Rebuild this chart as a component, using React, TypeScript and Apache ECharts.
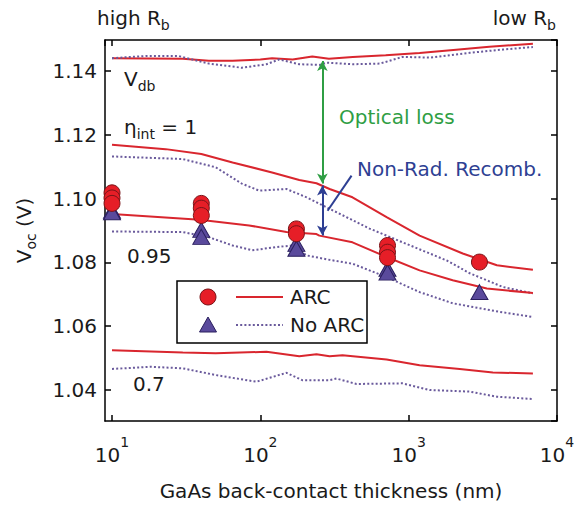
import React, { useEffect, useRef } from 'react';
import * as echarts from 'echarts';

// ---- data (x: GaAs back-contact thickness in nm, y: Voc in V) ----
const vdbArc = [[10,1.1440],[30,1.1438],[45,1.1432],[65,1.1432],[100,1.1436],[120,1.1440],[165,1.1436],[224,1.1445],[290,1.1438],[420,1.1444],[700,1.1449],[1185,1.1456],[2000,1.1466],[3500,1.1476],[6880,1.1485]];
const vdbNoArc = [[10,1.1440],[17,1.1447],[28,1.1447],[45,1.1423],[75,1.1410],[110,1.1421],[134,1.1436],[183,1.1421],[250,1.1419],[280,1.1426],[420,1.1421],[640,1.1423],[910,1.1444],[1385,1.1442],[2585,1.1457],[4315,1.1467],[6880,1.1475]];
const eta1Arc = [[10,1.1169],[23,1.1155],[40,1.1140],[65,1.1113],[120,1.1082],[183,1.1058],[239,1.1048],[293,1.1030],[418,1.1004],[710,1.0942],[1185,1.0884],[2315,1.0828],[3935,1.0791],[6880,1.0777]];
const eta1NoArc = [[10,1.1132],[30,1.1124],[50,1.1098],[75,1.1047],[98,1.1025],[150,1.1030],[205,1.1004],[293,1.0968],[545,1.0906],[910,1.0863],[1805,1.0806],[2585,1.0766],[4315,1.0723],[6880,1.0703]];
const eta095Arc = [[10,1.0952],[39,1.0934],[84,1.0916],[150,1.0895],[239,1.0889],[250,1.0884],[418,1.0863],[710,1.0817],[1185,1.0775],[1980,1.0744],[3365,1.0718],[6880,1.0704]];
const eta095NoArc = [[10,1.0897],[30,1.0895],[45,1.0879],[65,1.0853],[88,1.0838],[128,1.0848],[164,1.0853],[205,1.0822],[293,1.0808],[418,1.0796],[710,1.0754],[1185,1.0707],[1980,1.0672],[4120,1.0645],[6880,1.0629]];
const eta07Arc = [[10,1.0525],[30,1.0518],[50,1.0515],[110,1.0520],[183,1.0506],[239,1.0512],[293,1.0506],[358,1.0509],[710,1.0496],[1185,1.0478],[2210,1.0466],[3695,1.0455],[6880,1.0452]];
const eta07NoArc = [[10,1.0466],[18,1.0473],[30,1.0468],[50,1.0447],[94,1.0426],[150,1.0454],[192,1.0431],[293,1.0431],[326,1.0436],[445,1.0419],[910,1.0421],[1385,1.0400],[2585,1.0395],[3935,1.0379],[6880,1.0372]];

// measured points
const arcPoints = [[10,1.1018],[10,1.1002],[10,1.0985],[40,1.0985],[40,1.0970],[40,1.0947],[175,1.0905],[175,1.0890],[720,1.0853],[720,1.0832],[720,1.0815],[3000,1.0801]];
const noArcPoints = [[10,1.0962],[10,1.0957],[40,1.0902],[40,1.0880],[175,1.0858],[175,1.0843],[720,1.0780],[720,1.0768],[3000,1.0707]];

// annotation arrows (data coordinates)
const opticalLoss = [[262,1.1431],[262,1.1047]];
const nonRad = [[262,1.1041],[262,1.0884]];
const nonRadLeader = [[284,1.0962],[412,1.1072]];

const X_MIN = 8.97;
const X_MAX = 10000;
const Y_MIN = 1.0303;
const Y_MAX = 1.1497;

const FONT = 'DejaVu Sans';
const INK = '#1a1a1a';
const RED = '#d9262e';
const RED_FILL = '#e61e27';
const RED_EDGE = '#7a1418';
const PURPLE = '#6a5a9c';
const TRI_FILL = '#5a4a9c';
const TRI_EDGE = '#2a1f5e';
const GREEN = '#2f9e44';
const NAVY = '#2e3f93';

const solid = (name: string, data: number[][]) => ({
  name, type: 'line', data, showSymbol: false, symbol: 'none',
  lineStyle: { color: RED, width: 2 }, z: 2,
});
const dotted = (name: string, data: number[][]) => ({
  name, type: 'line', data, showSymbol: false, symbol: 'none',
  lineStyle: { color: PURPLE, width: 2, type: [2, 2.2] }, z: 2,
});

export default function App() {
  const ref = useRef<HTMLDivElement>(null);
  useEffect(() => {
    if (!ref.current) return;
    const chart = echarts.init(ref.current, undefined, { renderer: 'svg' });
    const axisCommon = {
      axisLine: { show: true, lineStyle: { color: '#000', width: 1.5 } },
      axisTick: { show: true, inside: true, length: 6, lineStyle: { color: '#000', width: 1.5 } },
      splitLine: { show: false },
      minorTick: { show: false },
    };
    const txt = (x: number, y: number, text: string, fill = INK, rich?: any, align = 'left') => ({
      type: 'text', x, y, z: 120,
      style: { text, fill, fontSize: 20, fontFamily: FONT, align, verticalAlign: 'top', rich },
    });
    const subRich = {
      m: { fontSize: 20, fontFamily: FONT, lineHeight: 20, verticalAlign: 'top', fill: INK },
      s: { fontSize: 14, fontFamily: FONT, lineHeight: 24, verticalAlign: 'bottom', fill: INK },
    };
    chart.setOption({
      animation: false,
      grid: { left: 105, right: 17, top: 40, bottom: 89, outerBoundsMode: 'none' },
      xAxis: [
        {
          type: 'log', min: X_MIN, max: X_MAX, logBase: 10, position: 'bottom',
          ...axisCommon,
          axisLabel: {
            show: true, margin: 14, showMinLabel: false,
            formatter: (v: number) => `{b|10}{s|${Math.round(Math.log10(v))}}`,
            rich: {
              b: { fontSize: 20, fontFamily: FONT, color: INK, lineHeight: 20, verticalAlign: 'bottom' },
              s: { fontSize: 14, fontFamily: FONT, color: INK, lineHeight: 30, verticalAlign: 'top' },
            },
          },
          name: 'GaAs back-contact thickness (nm)', nameLocation: 'middle', nameGap: 60,
          nameTextStyle: { fontSize: 20, fontFamily: FONT, color: INK },
        },
        {
          type: 'log', min: X_MIN, max: X_MAX, logBase: 10, position: 'top',
          ...axisCommon, axisLabel: { show: false },
        },
      ],
      yAxis: [
        {
          type: 'value', min: Y_MIN, max: Y_MAX, position: 'left',
          ...axisCommon,
          axisLabel: {
            show: true, margin: 8, showMinLabel: false, showMaxLabel: false,
            formatter: (v: number) => v.toFixed(2),
            fontSize: 20, fontFamily: FONT, color: INK,
          },
          name: '{m|V}{s|oc}{m| (V)}', nameLocation: 'middle', nameGap: 67, nameRotate: 90,
          nameTextStyle: {
            rich: {
              m: { fontSize: 20, fontFamily: FONT, color: INK, lineHeight: 20, verticalAlign: 'top' },
              s: { fontSize: 14, fontFamily: FONT, color: INK, lineHeight: 24, verticalAlign: 'bottom' },
            },
          },
        },
        {
          type: 'value', min: Y_MIN, max: Y_MAX, position: 'right',
          ...axisCommon, axisLabel: { show: false },
        },
      ],
      series: [
        {
          ...solid('Vdb ARC', vdbArc),
          markLine: {
            silent: true, animation: false, symbol: ['arrow', 'arrow'], symbolSize: [8, 10],
            label: { show: false },
            data: [
              [{ coord: opticalLoss[0], lineStyle: { color: GREEN, width: 2, type: 'solid' } }, { coord: opticalLoss[1] }],
              [{ coord: nonRad[0], lineStyle: { color: NAVY, width: 2, type: 'solid' } }, { coord: nonRad[1] }],
              [{ coord: nonRadLeader[0], symbol: 'none', lineStyle: { color: NAVY, width: 2, type: 'solid' } }, { coord: nonRadLeader[1], symbol: 'none' }],
            ],
          },
        },
        dotted('Vdb No ARC', vdbNoArc),
        solid('eta=1 ARC', eta1Arc),
        dotted('eta=1 No ARC', eta1NoArc),
        solid('eta=0.95 ARC', eta095Arc),
        dotted('eta=0.95 No ARC', eta095NoArc),
        solid('eta=0.7 ARC', eta07Arc),
        dotted('eta=0.7 No ARC', eta07NoArc),
        {
          name: 'No ARC points', type: 'scatter', data: noArcPoints, symbol: 'triangle', symbolSize: [17, 15],
          itemStyle: { color: TRI_FILL, borderColor: TRI_EDGE, borderWidth: 1, opacity: 1 }, z: 3,
        },
        {
          name: 'ARC points', type: 'scatter', data: arcPoints, symbol: 'circle', symbolSize: 16,
          itemStyle: { color: RED_FILL, borderColor: RED_EDGE, borderWidth: 1, opacity: 1 }, z: 4,
        },
      ],
      graphic: [
        txt(97, 8, '{m|high R}{s|b}', INK, subRich),
        txt(556, 8, '{m|low R}{s|b}', INK, subRich, 'right'),
        txt(124, 69, '{m|V}{s|db}', INK, subRich),
        txt(124, 117, '{m|η}{s|int}{m| = 1}', INK, subRich),
        txt(127, 246, '0.95'),
        txt(133, 374, '0.7'),
        txt(339, 107, 'Optical loss', GREEN),
        txt(357, 159, 'Non-Rad. Recomb.', NAVY),
        { type: 'rect', z: 110, shape: { x: 177, y: 281, width: 190, height: 62 }, style: { fill: '#fff', stroke: '#000', lineWidth: 1.5 } },
        { type: 'circle', z: 111, shape: { cx: 208, cy: 297, r: 8 }, style: { fill: RED_FILL, stroke: RED_EDGE, lineWidth: 1 } },
        { type: 'line', z: 111, shape: { x1: 236, y1: 297, x2: 283, y2: 297 }, style: { stroke: RED, lineWidth: 2 } },
        { type: 'text', z: 111, x: 290, y: 297, style: { text: 'ARC', fontSize: 20, fontFamily: FONT, fill: INK, verticalAlign: 'middle' } },
        { type: 'polygon', z: 111, shape: { points: [[199.5, 332], [216.5, 332], [208, 317]] }, style: { fill: TRI_FILL, stroke: TRI_EDGE, lineWidth: 1 } },
        { type: 'line', z: 111, shape: { x1: 236, y1: 325, x2: 283, y2: 325 }, style: { stroke: PURPLE, lineWidth: 2, lineDash: [2, 2.2] } },
        { type: 'text', z: 111, x: 290, y: 325, style: { text: 'No ARC', fontSize: 20, fontFamily: FONT, fill: INK, verticalAlign: 'middle' } },
      ],
    });
    return () => chart.dispose();
  }, []);
  return <div ref={ref} style={{ width: 574, height: 510, position: 'absolute', left: 0, top: 0 }} />;
}
